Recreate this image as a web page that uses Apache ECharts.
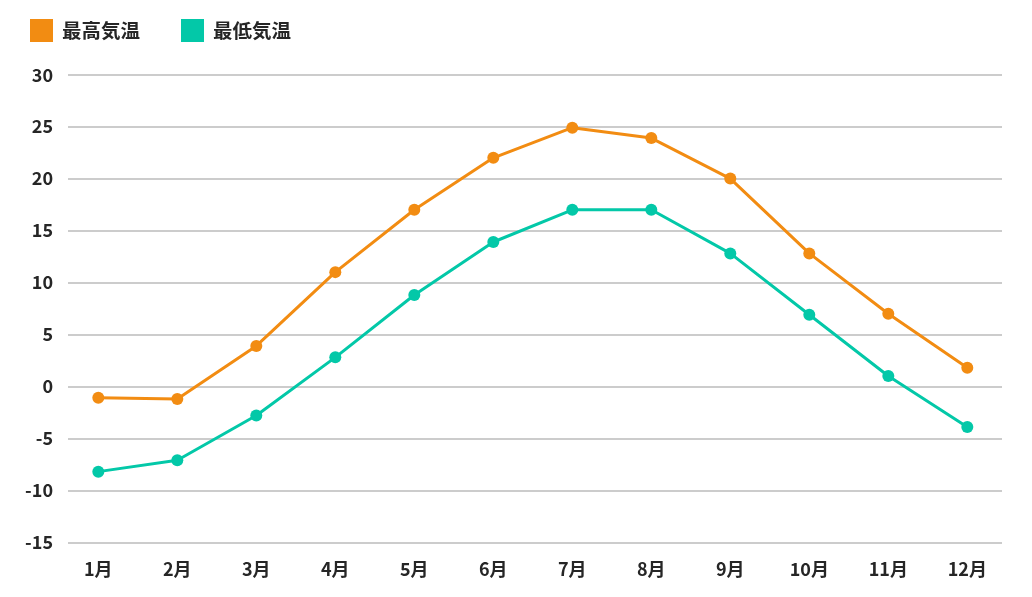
<!DOCTYPE html>
<html>
<head>
<meta charset="utf-8">
<script src="https://cdn.jsdelivr.net/npm/echarts@6/dist/echarts.min.js"></script>
<style>
html,body{margin:0;padding:0;background:#fff;}
#chart{width:1032px;height:597px;}
</style>
</head>
<body>
<div id="chart"></div>
<script>
const categories = ['1月','2月','3月','4月','5月','6月','7月','8月','9月','10月','11月','12月'];
const seriesNames = ['最高気温','最低気温'];
const maxTemp = [-1.1, -1.2, 3.9, 11.0, 17.0, 22.0, 24.9, 23.9, 20.0, 12.8, 7.0, 1.8];
const minTemp = [-8.2, -7.1, -2.8, 2.8, 8.8, 13.9, 17.0, 17.0, 12.8, 6.9, 1.0, -3.9];
const yMin = -15, yMax = 30, yStep = 5;

const font = '"Noto Sans CJK JP", "Noto Sans", sans-serif';
const colors = ['#F28C12', '#03C8A8'];
const textColor = '#262626';
const chart = echarts.init(document.getElementById('chart'), null, {renderer: 'canvas'});
const gridTop = 74.7, gridBottom = 597 - 542.3;
chart.setOption({
  animation: false,
  color: colors,
  textStyle: {fontFamily: font},
  legend: {
    left: 25, top: 14,
    itemWidth: 23, itemHeight: 23, itemGap: 41,
    icon: 'rect',
    textStyle: {fontSize: 19.5, fontWeight: 'bold', color: textColor, fontFamily: font, padding: [0, 0, 0, 4]},
    data: seriesNames
  },
  grid: [
    {left: 68, right: 30, top: gridTop, bottom: gridBottom, containLabel: false},
    {left: 58.8, right: 25.2, top: gridTop, bottom: gridBottom, containLabel: false}
  ],
  xAxis: [
    {gridIndex: 0, type: 'category', data: categories, show: false},
    {gridIndex: 1, type: 'category', data: categories, boundaryGap: true,
     axisLine: {show: false}, axisTick: {show: false},
     axisLabel: {margin: 18, fontSize: 18, fontWeight: 'bold', color: textColor, fontFamily: font}}
  ],
  yAxis: [
    {gridIndex: 0, type: 'value', min: yMin, max: yMax, interval: yStep,
     axisLine: {show: false}, axisTick: {show: false},
     axisLabel: {margin: 15, fontSize: 18, fontWeight: 'bold', color: textColor, fontFamily: font},
     splitLine: {lineStyle: {color: '#cccccc', width: 2}}},
    {gridIndex: 1, type: 'value', min: yMin, max: yMax, interval: yStep, show: false, splitLine: {show: false}}
  ],
  series: [
    {name: seriesNames[0], type: 'line', xAxisIndex: 1, yAxisIndex: 1, data: maxTemp,
     symbol: 'circle', symbolSize: 12, lineStyle: {width: 3}, itemStyle: {color: colors[0]}},
    {name: seriesNames[1], type: 'line', xAxisIndex: 1, yAxisIndex: 1, data: minTemp,
     symbol: 'circle', symbolSize: 12, lineStyle: {width: 3}, itemStyle: {color: colors[1]}}
  ]
});
</script>
</body>
</html>
